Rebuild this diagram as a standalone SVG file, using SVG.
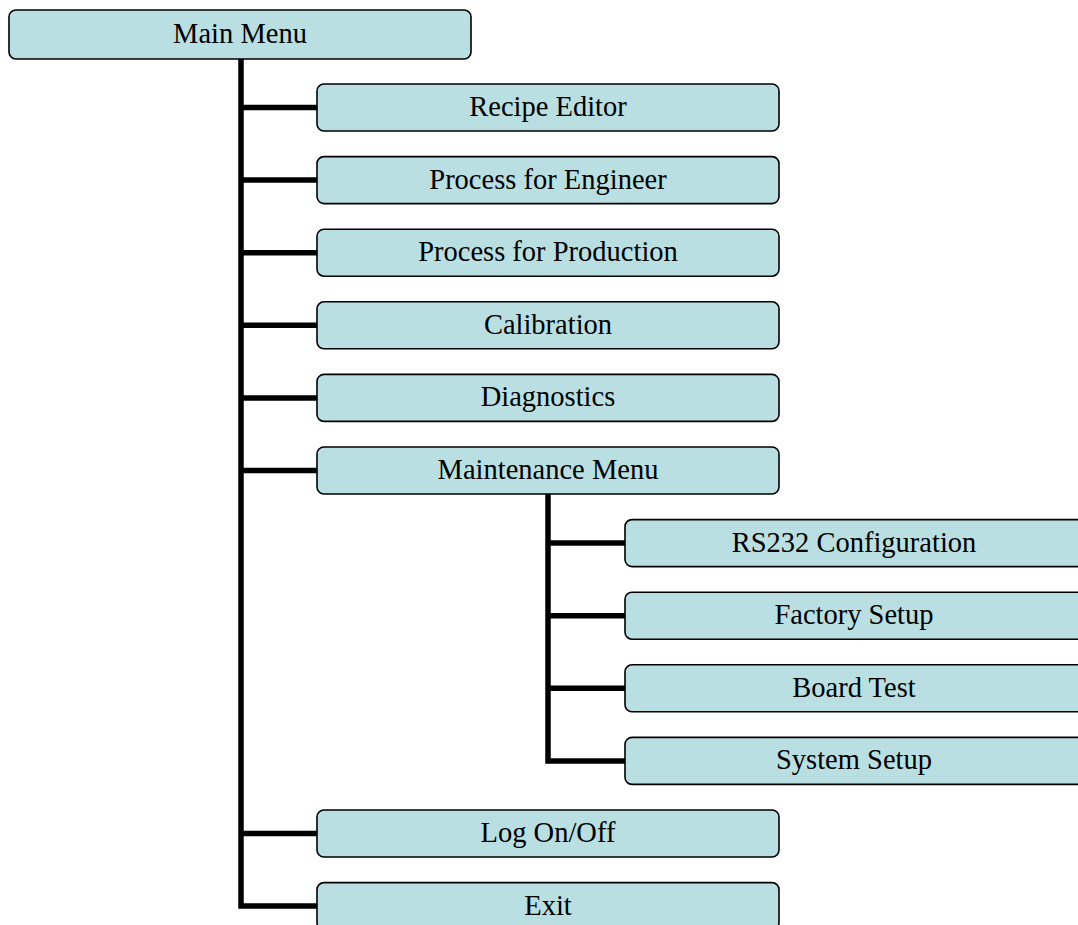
<svg xmlns="http://www.w3.org/2000/svg" width="1078" height="925" viewBox="0 0 1078 925">
<style>
.box{fill:#b9dfe3;stroke:#000;stroke-width:1.6}
.lbl{font-family:"Liberation Serif","Times New Roman",serif;font-size:28.5px;fill:#000;text-anchor:middle}
.conn{fill:none;stroke:#000;stroke-width:5.5;stroke-linejoin:miter;stroke-linecap:butt}
</style>
<rect width="1078" height="925" fill="#fff"/>
<g id="connectors">
<path class="conn" d="M241,59 V906 H318"/>
<path class="conn" d="M241,107.5 H318 M241,180 H318 M241,252.7 H318 M241,325.3 H318 M241,397.9 H318 M241,470.5 H318 M241,833.5 H318"/>
<path class="conn" d="M548,494 V760.9 H626"/>
<path class="conn" d="M548,543.1 H626 M548,615.7 H626 M548,688.3 H626"/>
</g>
<g id="main-menu"><rect class="box" x="9" y="10" width="462" height="49" rx="7"/><text class="lbl" x="240" y="43">Main Menu</text></g>
<g id="recipe-editor"><rect class="box" x="317" y="84" width="462" height="47" rx="7"/><text class="lbl" x="548" y="116">Recipe Editor</text></g>
<g id="process-engineer"><rect class="box" x="317" y="156.6" width="462" height="47" rx="7"/><text class="lbl" x="548" y="188.6">Process for Engineer</text></g>
<g id="process-production"><rect class="box" x="317" y="229.2" width="462" height="47" rx="7"/><text class="lbl" x="548" y="261.2">Process for Production</text></g>
<g id="calibration"><rect class="box" x="317" y="301.8" width="462" height="47" rx="7"/><text class="lbl" x="548" y="333.8">Calibration</text></g>
<g id="diagnostics"><rect class="box" x="317" y="374.4" width="462" height="47" rx="7"/><text class="lbl" x="548" y="406.4">Diagnostics</text></g>
<g id="maintenance-menu"><rect class="box" x="317" y="447" width="462" height="47" rx="7"/><text class="lbl" x="548" y="479">Maintenance Menu</text></g>
<g id="rs232"><rect class="box" x="625" y="519.6" width="462" height="47" rx="7"/><text class="lbl" x="854" y="551.6">RS232 Configuration</text></g>
<g id="factory-setup"><rect class="box" x="625" y="592.2" width="462" height="47" rx="7"/><text class="lbl" x="854" y="624.2">Factory Setup</text></g>
<g id="board-test"><rect class="box" x="625" y="664.8" width="462" height="47" rx="7"/><text class="lbl" x="854" y="696.8">Board Test</text></g>
<g id="system-setup"><rect class="box" x="625" y="737.4" width="462" height="47" rx="7"/><text class="lbl" x="854" y="769.4">System Setup</text></g>
<g id="log-on-off"><rect class="box" x="317" y="810" width="462" height="47" rx="7"/><text class="lbl" x="548" y="842">Log On/Off</text></g>
<g id="exit"><rect class="box" x="317" y="882.6" width="462" height="47" rx="7"/><text class="lbl" x="548" y="914.6">Exit</text></g>
</svg>
